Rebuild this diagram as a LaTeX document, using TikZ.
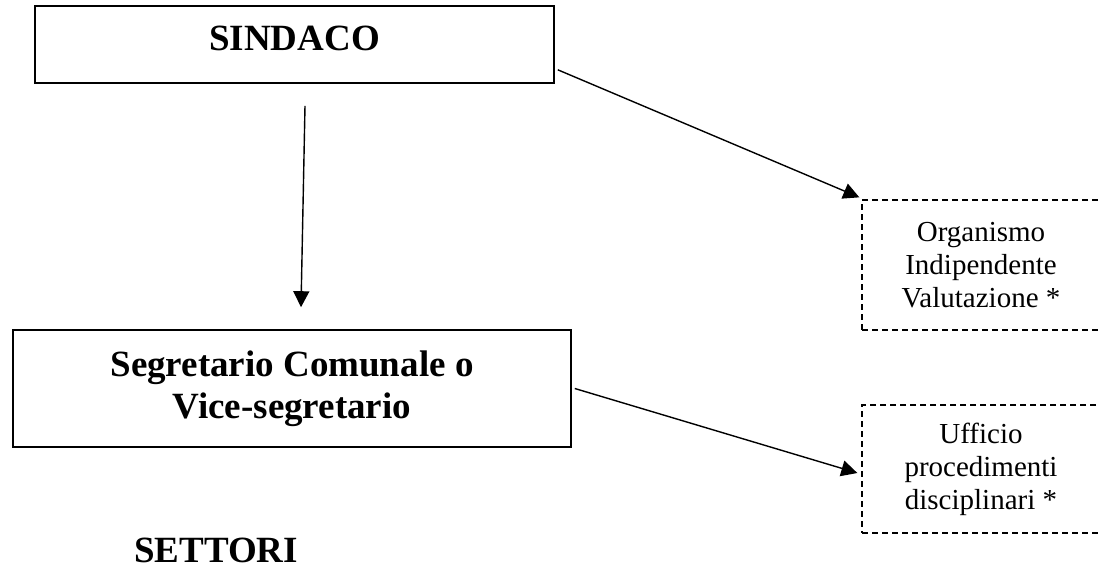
\documentclass[tikz,border=0pt]{standalone}
\usepackage{fontspec}
\setmainfont{Liberation Serif}
\usetikzlibrary{arrows.meta}

\tikzset{
  bigbox/.style={draw, line width=1.6pt, inner sep=0pt, align=center,
    font=\fontsize{37}{42}\selectfont\bfseries},
  smallbox/.style={draw, line width=1.3pt, dash pattern=on 6pt off 4pt,
    inner sep=0pt, align=center, font=\fontsize{29}{33}\selectfont},
  link/.style={line width=1.4pt, -{Triangle[length=16pt,width=16pt]}}
}

\begin{document}
\begin{tikzpicture}[x=1pt,y=-1pt]
  \useasboundingbox (0,0) rectangle (1098,568);

  % Drawing box SINDACO
  \node [bigbox, minimum width=519pt, minimum height=77pt, text height=25pt, text depth=14pt]
    (sindaco) at (294.5,44.5) {SINDACO};

  % Drawing box Segretario
  \node [bigbox, minimum width=558pt, minimum height=117pt] (segretario) at (292,388.5)
    {Segretario Comunale o\\Vice-segretario};

  % Drawing box Organismo
  \node [smallbox, minimum width=238pt, minimum height=130pt] (organismo) at (981,265)
    {Organismo\\Indipendente\\Valutazione *};

  % Drawing box Ufficio
  \node [smallbox, minimum width=238pt, minimum height=128pt] (ufficio) at (981,469)
    {Ufficio\\procedimenti\\disciplinari *};

  % Marking text SETTORI
  \node [anchor=base west, inner sep=0pt, font=\fontsize{37}{42}\selectfont\bfseries]
    (settori) at (134,562) {SETTORI};

  % Drawing arrow SINDACO Segretario
  \draw [link] ([shift={(10.5,22)}]sindaco.south) -- ([shift={(9,-22)}]segretario.north);

  % Drawing arrow SINDACO Organismo
  \draw [link] ([shift={(3,-14)}]sindaco.south east) -- ([shift={(-2,-2)}]organismo.north west);

  % Drawing arrow Segretario Ufficio
  \draw [link] ([xshift=3pt]segretario.east) -- ([shift={(-4,4)}]ufficio.west);
\end{tikzpicture}
\end{document}
